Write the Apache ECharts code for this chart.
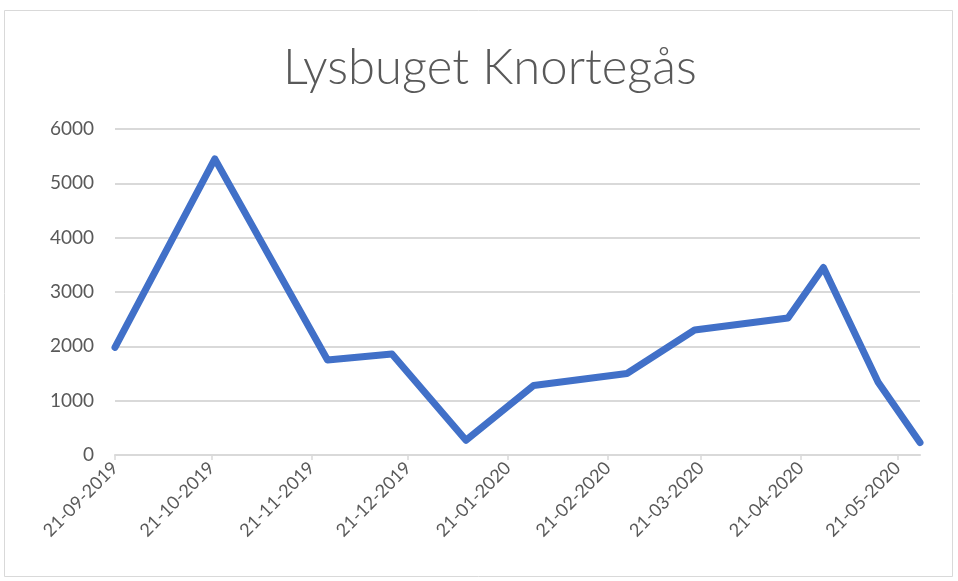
<!DOCTYPE html>
<html>
<head>
<meta charset="utf-8">
<title>Lysbuget Knortegås</title>
<script src="https://cdn.jsdelivr.net/npm/echarts@6/dist/echarts.min.js"></script>
<style>
  html, body { margin: 0; padding: 0; background: #ffffff; }
  #chart { width: 958px; height: 581px; }
</style>
</head>
<body>
<div id="chart"></div>
<script>
// Readings (dd-mm-yyyy) and the measured amount at each reading
const readingDates = [
  '21-09-2019', '22-10-2019', '26-11-2019', '16-12-2019', '08-01-2020', '29-01-2020',
  '27-02-2020', '19-03-2020', '17-04-2020', '28-04-2020', '15-05-2020', '28-05-2020'
];
const readingValues = [1980, 5450, 1750, 1860, 270, 1280, 1500, 2300, 2520, 3450, 1340, 230];

// Monthly tick labels on the date axis
const tickDates = [
  '21-09-2019', '21-10-2019', '21-11-2019', '21-12-2019', '21-01-2020',
  '21-02-2020', '21-03-2020', '21-04-2020', '21-05-2020'
];

const yTicks = [0, 1000, 2000, 3000, 4000, 5000, 6000];

const DAY = 86400000;
// Dates are placed on a linear axis measured in days
function toDay(s) {
  const [d, m, y] = s.split('-').map(Number);
  return Date.UTC(y, m - 1, d) / DAY;
}
function pad(n) { return (n < 10 ? '0' : '') + n; }
function fmt(day) {
  const d = new Date(Math.round(day) * DAY);
  return pad(d.getUTCDate()) + '-' + pad(d.getUTCMonth() + 1) + '-' + d.getUTCFullYear();
}

const points = readingDates.map((s, i) => [toDay(s), readingValues[i]]);
const tickDays = tickDates.map(toDay);

const labelColor = '#595959';
const gridColor = '#d9d9d9';
const fontFamily = 'Lato, "Open Sans", "Noto Sans", sans-serif';

const chart = echarts.init(document.getElementById('chart'), null, { renderer: 'canvas' });

chart.setOption({
  backgroundColor: '#ffffff',
  animation: false,
  title: {
    text: 'Lysbuget Knortegås',
    left: 278,
    top: 39,
    textStyle: {
      fontFamily: fontFamily,
      fontWeight: 300,
      fontSize: 49,
      color: '#595959'
    }
  },
  graphic: [{
    type: 'rect',
    shape: { x: 4.5, y: 10.5, width: 948, height: 566 },
    style: { fill: 'none', stroke: '#d9d9d9', lineWidth: 1 },
    silent: true,
    z: -1
  }],
  grid: { left: 115, right: 38, top: 129, bottom: 126, containLabel: false },
  xAxis: {
    type: 'value',
    min: toDay(readingDates[0]),
    max: toDay(readingDates[readingDates.length - 1]),
    axisLine: { show: true, onZero: false, lineStyle: { color: gridColor, width: 2 } },
    axisTick: {
      show: true,
      customValues: tickDays,
      length: 5,
      lineStyle: { color: gridColor, width: 1.5 }
    },
    axisLabel: {
      customValues: tickDays,
      rotate: 45,
      margin: 10,
      fontFamily: fontFamily,
      fontSize: 18,
      color: labelColor,
      formatter: (v) => fmt(v)
    },
    splitLine: { show: false }
  },
  yAxis: {
    type: 'value',
    min: yTicks[0],
    max: yTicks[yTicks.length - 1],
    interval: yTicks[1] - yTicks[0],
    axisLine: { show: false },
    axisTick: { show: false },
    axisLabel: {
      margin: 21,
      fontFamily: fontFamily,
      fontSize: 19,
      color: labelColor,
      formatter: (v) => String(v)
    },
    splitLine: { show: true, lineStyle: { color: gridColor, width: 2 } }
  },
  series: [{
    type: 'line',
    data: points,
    showSymbol: false,
    symbol: 'none',
    lineStyle: { color: '#4170c8', width: 7, join: 'round', cap: 'round' },
    itemStyle: { color: '#4170c8' }
  }]
});
</script>
</body>
</html>
